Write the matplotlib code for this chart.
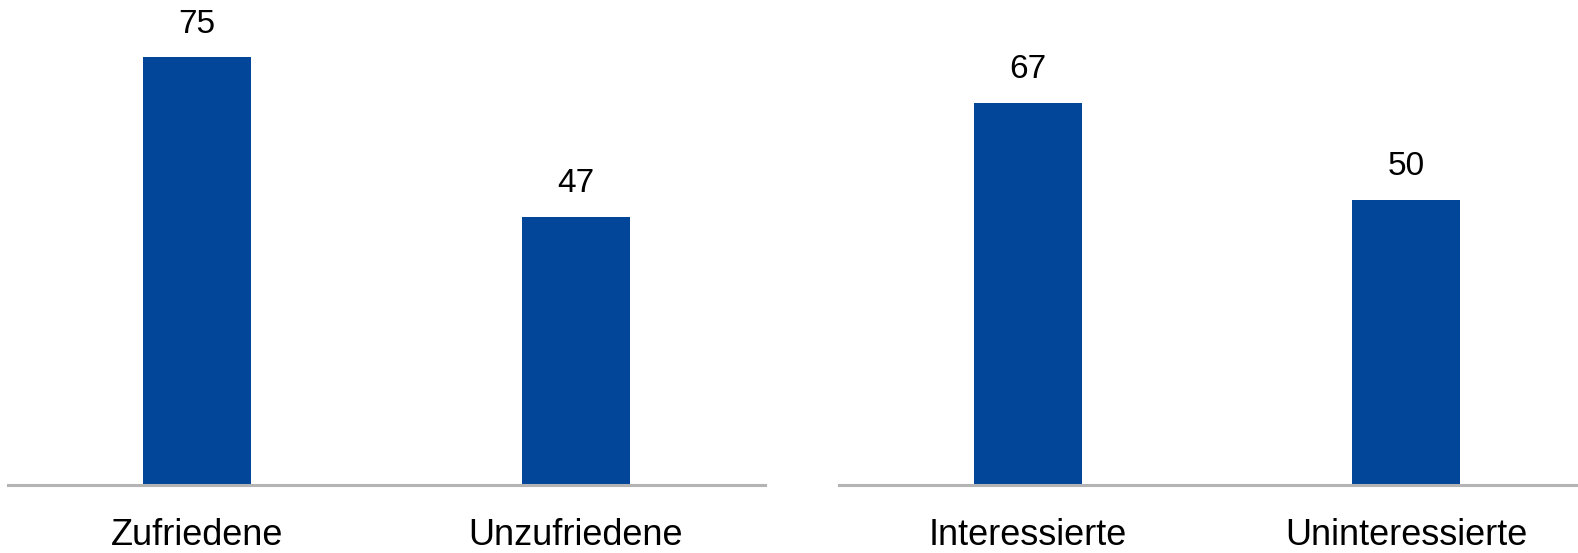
from matplotlib import pyplot as plt

plt.rcParams['font.family'] = ['Liberation Sans', 'DejaVu Sans']

left_labels = ["Zufriedene", "Unzufriedene"]
left_values = [75, 47]
right_labels = ["Interessierte", "Uninteressierte"]
right_values = [67, 50]

bar_color = "#02469a"
base_color = "#b4b4b4"

fig = plt.figure(figsize=(15.78, 5.53), dpi=100)
ax1 = fig.add_axes([0.0051, 0.123, 0.4797, 0.8246])
ax2 = fig.add_axes([0.5317, 0.123, 0.4791, 0.8246])

for ax, labels, values in [(ax1, left_labels, left_values),
                           (ax2, right_labels, right_values)]:
    x = range(len(values))
    ax.bar(x, values, width=0.285, color=bar_color)
    for xi, v in zip(x, values):
        ax.annotate(str(v), (xi, v), xytext=(0, 24), textcoords='offset points',
                    ha='center', va='center', fontsize=24, annotation_clip=False)
    ax.set_xlim(-0.5, 1.5)
    ax.set_ylim(0, 80)
    ax.set_xticks(list(x))
    ax.set_xticklabels(labels, fontsize=26)
    ax.tick_params(axis='x', length=0, pad=24)
    ax.set_yticks([])
    for s in ['top', 'right', 'left']:
        ax.spines[s].set_visible(False)
    ax.spines['bottom'].set_color(base_color)
    ax.spines['bottom'].set_linewidth(2.2)

plt.savefig('out.png')
